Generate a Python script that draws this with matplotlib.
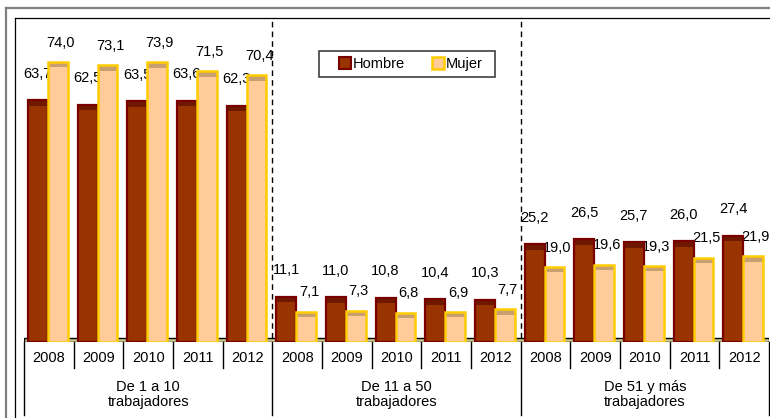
import matplotlib
matplotlib.use("Agg")
import matplotlib.pyplot as plt
from matplotlib.lines import Line2D
from matplotlib.patches import Rectangle
from matplotlib import font_manager
import numpy as np

names = {f.name for f in font_manager.fontManager.ttflist}
if 'Liberation Sans Narrow' in names:
    plt.rcParams['font.family'] = ['Liberation Sans Narrow', 'DejaVu Sans']
    FS = 11.8
else:
    plt.rcParams['font.family'] = ['Liberation Sans', 'DejaVu Sans']
    FS = 10.5

years = ['2008', '2009', '2010', '2011', '2012'] * 3
groups = ['De 1 a 10\ntrabajadores', 'De 11 a 50\ntrabajadores', 'De 51 y más\ntrabajadores']
hombre = [63.7, 62.5, 63.5, 63.6, 62.3,
          11.1, 11.0, 10.8, 10.4, 10.3,
          25.2, 26.5, 25.7, 26.0, 27.4]
mujer = [74.0, 73.1, 73.9, 71.5, 70.4,
         7.1, 7.3, 6.8, 6.9, 7.7,
         19.0, 19.6, 19.3, 21.5, 21.9]

W, H = 770, 418
FLOOR = 1.07

fig = plt.figure(figsize=(W / 100, H / 100), dpi=100)
ax = fig.add_axes([24 / W, 1 - 342 / H, 745 / W, 324 / H])

x = np.arange(len(years))
h = np.array(hombre)
m = np.array(mujer)
bw = 0.4
xh = x - 0.22
xm = x + 0.18

# floor
ax.axhspan(-FLOOR, 0, facecolor='#c6c68a', edgecolor='black', lw=1, zorder=1)

# Hombre bars: face, top cap, edge
ax.bar(xh, h + FLOOR, bw, bottom=-FLOOR, color='#993300', lw=0, zorder=2)
ax.bar(xh, np.full_like(h, 1.5), bw, bottom=h - 1.5, color='#6e1800', lw=0, zorder=3)
ax.bar(xh, h + FLOOR, bw, bottom=-FLOOR, facecolor='none', edgecolor='#7a0000', lw=1.6, zorder=4)

# Mujer bars
ax.bar(xm, m + FLOOR, bw, bottom=-FLOOR, color='#ffcc99', lw=0, zorder=5)
ax.bar(xm, np.full_like(m, 1.2), bw, bottom=m - 1.4, color='#c8a070', lw=0, zorder=6)
ax.bar(xm, m + FLOOR, bw, bottom=-FLOOR, facecolor='none', edgecolor='#ffcc00', lw=1.8, zorder=7)

def fmt(v):
    return f"{v:.1f}".replace('.', ',')

for xi, v in zip(xh, h):
    ax.annotate(fmt(v), (xi, v), xytext=(0, 14), textcoords='offset points',
                ha='center', va='bottom', fontsize=FS, annotation_clip=False)
for xi, v in zip(xm, m):
    ax.annotate(fmt(v), (xi, v), xytext=(2, 9), textcoords='offset points',
                ha='center', va='bottom', fontsize=FS, annotation_clip=False)

ax.set_xlim(-0.5, len(years) - 0.5)
ax.set_ylim(-FLOOR, 85.8)
ax.axis('off')

# dashed separators between groups
for sep in [4.5, 9.5]:
    ax.plot([sep, sep], [0, 85], color='black', lw=1, ls=(0, (4, 3)), zorder=1)

# category axis below
tr = ax.get_xaxis_transform()
for b in np.arange(-0.5, len(years), 1.0):
    if b in (-0.5, 4.5, 9.5, 14.5):
        ax.plot([b, b], [0, -0.225], transform=tr, color='black', lw=1, clip_on=False)
    else:
        ax.plot([b, b], [0, -0.08], transform=tr, color='black', lw=1, clip_on=False)
for xi, yr in zip(x, years):
    ax.text(xi, -0.049, yr, transform=tr, ha='center', va='center', fontsize=FS)
for gi, g in enumerate(groups):
    ax.text(gi * 5 + 2, -0.162, g, transform=tr, ha='center', va='center',
            fontsize=FS, linespacing=1.05)

# legend
handles = [
    Line2D([], [], ls='none', marker='s', markersize=8.5, markerfacecolor='#993300',
           markeredgecolor='#7a0000', markeredgewidth=1.5, label='Hombre'),
    Line2D([], [], ls='none', marker='s', markersize=8.5, markerfacecolor='#ffcc99',
           markeredgecolor='#ffcc00', markeredgewidth=1.8, label='Mujer'),
]
fig.legend(handles=handles, loc='center', bbox_to_anchor=(411 / W, 1 - 64 / H),
           ncol=2, frameon=False, fontsize=FS, handlelength=0.7, handletextpad=0.2,
           columnspacing=1.9)
fig.add_artist(Rectangle((319 / W, 1 - 77 / H), 176 / W, 26 / H, transform=fig.transFigure,
                         facecolor='none', edgecolor='#404040', lw=1.2))

# frames
def fline(xs, ys, **kw):
    fig.add_artist(Line2D([v / W for v in xs], [1 - v / H for v in ys],
                          transform=fig.transFigure, **kw))

fline([6, W], [8, 8], color='#808080', lw=1.6)
fline([6, 6], [8, H], color='#808080', lw=1.6)
fline([15, W], [18, 18], color='black', lw=0.9)
fline([15, 15], [18, H], color='black', lw=0.9)

fig.savefig('out.png', dpi=100)
